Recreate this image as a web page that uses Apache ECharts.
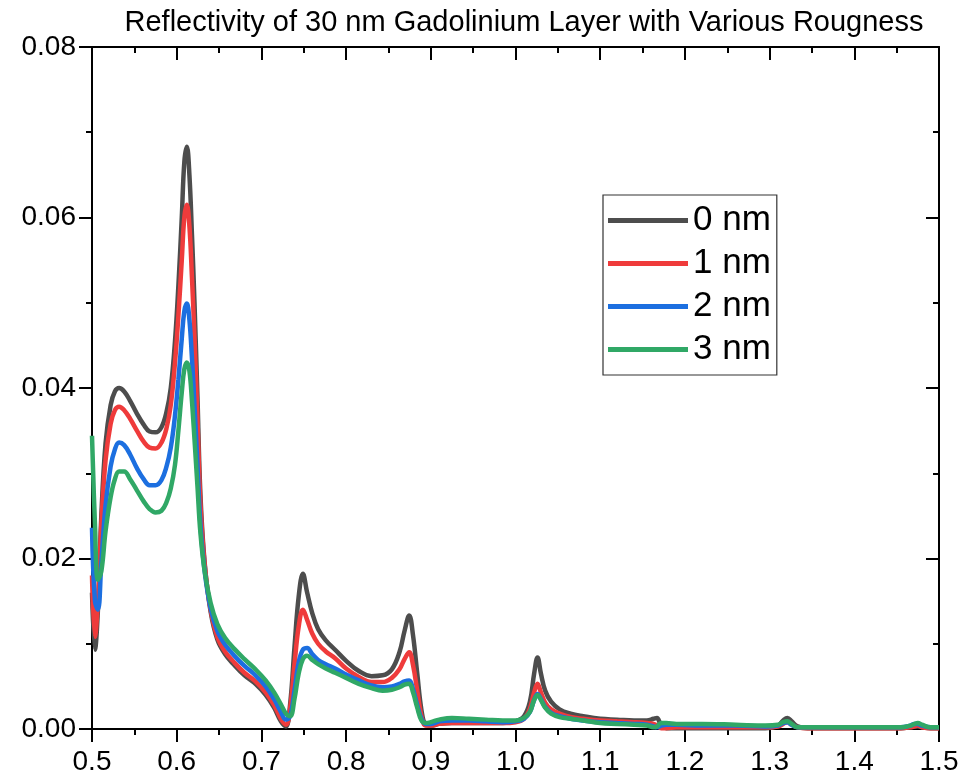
<!DOCTYPE html>
<html>
<head>
<meta charset="utf-8">
<script src="https://cdn.jsdelivr.net/npm/echarts@6/dist/echarts.min.js"></script>
<style>
html,body{margin:0;padding:0;background:#fff;}
#chart{width:963px;height:780px;}
</style>
</head>
<body>
<div id="chart"></div>
<script>
// Wavelength / x values (shared by all series)
var xValues = [0.500, 0.5035, 0.507, 0.511, 0.516, 0.522, 0.527, 0.532, 0.538, 0.545, 0.553, 0.561, 0.568, 0.575, 0.582, 0.588, 0.593, 0.598, 0.602, 0.606, 0.609, 0.612, 0.615, 0.618, 0.621, 0.6245, 0.628, 0.633, 0.640, 0.648, 0.657, 0.668, 0.680, 0.693, 0.705, 0.715, 0.723, 0.729, 0.734, 0.739, 0.744, 0.749, 0.754, 0.760, 0.767, 0.776, 0.787, 0.800, 0.815, 0.830, 0.843, 0.854, 0.863, 0.869, 0.8745, 0.879, 0.884, 0.889, 0.894, 0.900, 0.910, 0.925, 0.945, 0.965, 0.985, 1.000, 1.010, 1.017, 1.022, 1.026, 1.030, 1.035, 1.042, 1.052, 1.065, 1.080, 1.100, 1.120, 1.140, 1.155, 1.163, 1.167, 1.172, 1.178, 1.190, 1.220, 1.260, 1.295, 1.310, 1.316, 1.321, 1.326, 1.333, 1.345, 1.380, 1.420, 1.455, 1.466, 1.471, 1.475, 1.480, 1.490, 1.500];

var rough0nm = [0.0160, 0.0093, 0.0140, 0.0250, 0.0335, 0.0380, 0.0396, 0.0400, 0.0396, 0.0385, 0.0370, 0.0357, 0.0349, 0.0348, 0.0354, 0.0372, 0.0400, 0.0455, 0.0520, 0.0600, 0.0665, 0.0683, 0.0650, 0.0580, 0.0500, 0.0390, 0.0275, 0.0195, 0.0138, 0.0105, 0.0088, 0.0075, 0.0063, 0.0053, 0.0040, 0.0025, 0.0009, 0.0003, 0.0030, 0.0095, 0.0155, 0.0182, 0.0160, 0.0136, 0.0117, 0.0104, 0.0093, 0.0080, 0.0068, 0.0062, 0.0063, 0.0070, 0.0090, 0.0115, 0.0133, 0.0110, 0.0065, 0.0022, 0.0005, 0.0004, 0.0006, 0.0007, 0.0007, 0.0007, 0.0007, 0.0009, 0.0015, 0.0032, 0.0065, 0.0084, 0.0065, 0.0045, 0.0032, 0.0023, 0.0018, 0.0015, 0.0012, 0.0011, 0.0010, 0.0010, 0.0012, 0.0013, 0.0004, 0.0001, 0.0001, 0.0001, 0.0001, 0.0001, 0.0004, 0.0010, 0.0013, 0.0009, 0.0003, 0.0001, 0.0001, 0.0001, 0.0001, 0.0002, 0.0003, 0.0003, 0.0002, 0.0001, 0.0001];

var rough1nm = [0.0180, 0.0108, 0.0150, 0.0240, 0.0315, 0.0358, 0.0374, 0.0378, 0.0374, 0.0364, 0.0350, 0.0337, 0.0330, 0.0329, 0.0336, 0.0353, 0.0380, 0.0430, 0.0485, 0.0550, 0.0600, 0.0615, 0.0590, 0.0530, 0.0460, 0.0365, 0.0265, 0.0193, 0.0140, 0.0108, 0.0091, 0.0078, 0.0066, 0.0056, 0.0043, 0.0028, 0.0012, 0.0005, 0.0025, 0.0075, 0.0120, 0.0140, 0.0128, 0.0112, 0.0100, 0.0091, 0.0083, 0.0071, 0.0061, 0.0055, 0.0055, 0.0060, 0.0070, 0.0082, 0.0090, 0.0075, 0.0045, 0.0015, 0.0004, 0.0004, 0.0006, 0.0007, 0.0007, 0.0007, 0.0007, 0.0008, 0.0012, 0.0024, 0.0043, 0.0053, 0.0043, 0.0031, 0.0023, 0.0018, 0.0014, 0.0012, 0.0010, 0.0009, 0.0008, 0.0007, 0.0006, 0.0004, 0.0001, 0.0001, 0.0002, 0.0002, 0.0002, 0.0002, 0.0003, 0.0006, 0.0008, 0.0005, 0.0002, 0.0001, 0.0001, 0.0001, 0.0001, 0.0002, 0.0003, 0.0004, 0.0002, 0.0001, 0.0001];

var rough2nm = [0.0236, 0.0150, 0.0140, 0.0195, 0.0262, 0.0308, 0.0328, 0.0336, 0.0333, 0.0322, 0.0306, 0.0293, 0.0286, 0.0286, 0.0292, 0.0308, 0.0330, 0.0368, 0.0410, 0.0458, 0.0490, 0.0499, 0.0480, 0.0435, 0.0380, 0.0310, 0.0240, 0.0185, 0.0142, 0.0115, 0.0099, 0.0086, 0.0074, 0.0063, 0.0050, 0.0035, 0.0020, 0.0011, 0.0015, 0.0045, 0.0078, 0.0093, 0.0095, 0.0088, 0.0081, 0.0076, 0.0071, 0.0064, 0.0057, 0.0051, 0.0049, 0.0050, 0.0053, 0.0056, 0.0057, 0.0047, 0.0028, 0.0012, 0.0006, 0.0006, 0.0009, 0.0010, 0.0010, 0.0009, 0.0008, 0.0009, 0.0012, 0.0020, 0.0034, 0.0041, 0.0035, 0.0026, 0.0019, 0.0015, 0.0012, 0.0010, 0.0008, 0.0007, 0.0006, 0.0005, 0.0003, 0.0002, 0.0004, 0.0005, 0.0005, 0.0004, 0.0004, 0.0003, 0.0004, 0.0007, 0.0008, 0.0005, 0.0002, 0.0002, 0.0002, 0.0002, 0.0002, 0.0004, 0.0006, 0.0006, 0.0004, 0.0002, 0.0002];

var rough3nm = [0.0344, 0.0240, 0.0175, 0.0185, 0.0232, 0.0272, 0.0293, 0.0302, 0.0302, 0.0293, 0.0280, 0.0267, 0.0258, 0.0254, 0.0256, 0.0266, 0.0282, 0.0310, 0.0350, 0.0395, 0.0422, 0.0430, 0.0420, 0.0385, 0.0340, 0.0285, 0.0230, 0.0185, 0.0148, 0.0123, 0.0107, 0.0094, 0.0082, 0.0070, 0.0057, 0.0043, 0.0029, 0.0018, 0.0015, 0.0035, 0.0065, 0.0082, 0.0086, 0.0081, 0.0076, 0.0071, 0.0066, 0.0060, 0.0053, 0.0048, 0.0045, 0.0046, 0.0049, 0.0052, 0.0053, 0.0043, 0.0025, 0.0010, 0.0007, 0.0008, 0.0011, 0.0013, 0.0012, 0.0011, 0.0010, 0.0010, 0.0013, 0.0020, 0.0034, 0.0040, 0.0034, 0.0025, 0.0018, 0.0014, 0.0012, 0.0010, 0.0007, 0.0006, 0.0005, 0.0004, 0.0002, 0.0003, 0.0007, 0.0007, 0.0006, 0.0006, 0.0005, 0.0004, 0.0005, 0.0008, 0.0009, 0.0006, 0.0002, 0.0002, 0.0002, 0.0002, 0.0002, 0.0004, 0.0006, 0.0007, 0.0005, 0.0002, 0.0002];

var seriesNames = ['0 nm', '1 nm', '2 nm', '3 nm'];
var seriesColors = ['#4d4d4d', '#ef3b3b', '#1c6fe0', '#30a866'];
var seriesValues = [rough0nm, rough1nm, rough2nm, rough3nm];

var titleText = 'Reflectivity of 30 nm Gadolinium Layer with Various Rougness';

var FONT = "'Liberation Sans', Arial, sans-serif";

function pairs(ys) {
  return xValues.map(function (x, i) { return [x, ys[i]]; });
}

var chart = echarts.init(document.getElementById('chart'), null, {renderer: 'canvas'});

var axisLineStyle = {color: '#000', width: 2};
var tickStyle = {color: '#000', width: 2};

var option = {
  backgroundColor: '#fff',
  animation: false,
  title: {
    text: titleText,
    left: 519,
    textAlign: 'center',
    top: 3,
    textStyle: {fontFamily: FONT, fontSize: 29, fontWeight: 'normal', color: '#000'}
  },
  legend: {
    orient: 'vertical',
    left: 603,
    top: 195,
    padding: [4, 6, 4, 5],
    itemGap: 0,
    itemWidth: 80,
    itemHeight: 5,
    icon: 'rect',
    borderColor: '#333',
    borderWidth: 1.2,
    backgroundColor: '#fff',
    textStyle: {fontFamily: FONT, fontSize: 35, color: '#000', lineHeight: 43},
    data: seriesNames
  },
  grid: {left: 92, right: 24, top: 47, bottom: 51, containLabel: false},
  xAxis: [
    {
      type: 'value', position: 'bottom', min: 0.5, max: 1.5, interval: 0.1,
      axisLine: {show: true, onZero: false, lineStyle: axisLineStyle},
      axisTick: {show: true, inside: false, length: 13, lineStyle: tickStyle},
      minorTick: {show: true, splitNumber: 2, length: 6, lineStyle: tickStyle},
      splitLine: {show: false},
      axisLabel: {fontFamily: FONT, fontSize: 28, color: '#000', margin: 19,
        formatter: function (v) { return v.toFixed(1); }}
    },
    {
      type: 'value', position: 'top', min: 0.5, max: 1.5, interval: 0.1,
      axisLine: {show: true, onZero: false, lineStyle: axisLineStyle},
      axisTick: {show: true, inside: true, length: 13, lineStyle: tickStyle},
      minorTick: {show: true, splitNumber: 2, length: 6, lineStyle: tickStyle},
      splitLine: {show: false},
      axisLabel: {show: false}
    }
  ],
  yAxis: [
    {
      type: 'value', position: 'left', min: 0, max: 0.08, interval: 0.02,
      axisLine: {show: true, onZero: false, lineStyle: axisLineStyle},
      axisTick: {show: true, inside: false, length: 13, lineStyle: tickStyle},
      minorTick: {show: true, splitNumber: 2, length: 6, lineStyle: tickStyle},
      splitLine: {show: false},
      axisLabel: {fontFamily: FONT, fontSize: 28, color: '#000', margin: 16,
        formatter: function (v) { return v.toFixed(2); }}
    },
    {
      type: 'value', position: 'right', min: 0, max: 0.08, interval: 0.02,
      axisLine: {show: true, onZero: false, lineStyle: axisLineStyle},
      axisTick: {show: true, inside: true, length: 13, lineStyle: tickStyle},
      minorTick: {show: true, splitNumber: 2, length: 6, lineStyle: tickStyle},
      splitLine: {show: false},
      axisLabel: {show: false}
    }
  ],
  series: seriesNames.map(function (name, i) {
    return {
      name: name,
      type: 'line',
      xAxisIndex: 0,
      yAxisIndex: 0,
      data: pairs(seriesValues[i]),
      showSymbol: false,
      symbol: 'none',
      smooth: 0.4,
      clip: true,
      color: seriesColors[i],
      lineStyle: {color: seriesColors[i], width: 4.5},
      itemStyle: {color: seriesColors[i]},
      z: 2 + i
    };
  })
};

chart.setOption(option);
</script>
</body>
</html>
